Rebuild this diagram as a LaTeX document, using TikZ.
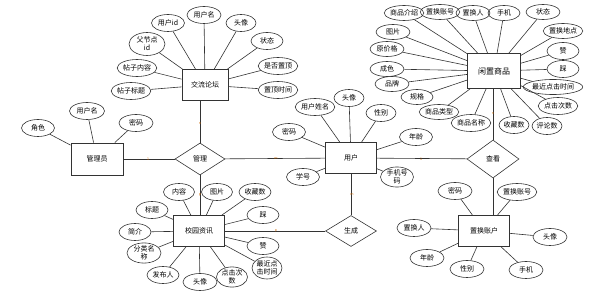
\documentclass[tikz,border=0pt]{standalone}
\usepackage{fontspec}
\setmainfont{Noto Sans CJK SC}
\usetikzlibrary{shapes.geometric}
\begin{document}
\begin{tikzpicture}[x=1pt,y=-1pt,
  every node/.style={font=\fontsize{7pt}{7.8pt}\selectfont, inner sep=0pt},
  ent/.style={draw=black!80, line width=0.9pt, rectangle, minimum width=51pt, minimum height=31pt},
  attr/.style={draw=black!80, line width=0.6pt, ellipse, minimum width=34pt, minimum height=17pt, align=center},
  rel/.style={draw=black!80, line width=0.6pt, diamond, minimum width=51pt, minimum height=31pt},
  lk/.style={draw=black!80, line width=0.6pt},
  card/.style={text=orange!80!black, font=\fontsize{3.5pt}{4pt}\selectfont, inner sep=0.3pt}]
\useasboundingbox (0,0) rectangle (608,304);

% entities
\node[ent, minimum width=46pt] (forum) at (205,85) {交流论坛};
\node[ent, minimum width=53pt, minimum height=35pt] (goods) at (494,71) {\fontsize{8pt}{8.5pt}\selectfont 闲置商品};
\node[ent, minimum width=52pt, minimum height=32pt] (admin) at (97,159) {管理员};
\node[ent] (user) at (351,158) {用户};
\node[ent] (news) at (199,231) {校园资讯};
\node[ent] (acct) at (484,231) {置换账户};

% relationships
\node[rel, minimum width=50pt, minimum height=32pt] (manage) at (200,159) {管理};
\node[rel, minimum width=52pt, minimum height=38pt] (view) at (493,159) {查看};
\node[rel] (gen) at (351,231) {生成};

% relationship links
\draw[lk] (admin) -- (manage);
\draw[lk] (manage) -- (user);
\draw[lk] (user) -- (view);
\draw[lk] (manage.north) -- (manage.north |- forum.south);
\draw[lk] (manage.south) -- (manage.south |- news.north);
\draw[lk] (view.north) -- (view.north |- goods.south);
\draw[lk] (view.south) -- (view.south |- acct.north);
\draw[lk] (user.south -| gen.north) -- (gen.north);
\draw[lk] (gen.west) -- (gen.west -| news.east);

% cardinalities
\node[card] (c1) at (148,159) {1};
\node[card] (c2) at (276,159) {m};
\node[card] (c3) at (200,124) {n};
\node[card] (c4) at (200,195) {p};
\node[card] (c5) at (352,195) {m};
\node[card] (c6) at (276,231) {p};
\node[card] (c7) at (421,159) {1};
\node[card] (c8) at (493,114) {n};

% forum attributes
\node[attr, minimum width=33pt] (f1) at (168,23) {用户id};
\node[attr] (f2) at (204,15) {用户名};
\node[attr, minimum width=30pt] (f3) at (241,23) {头像};
\node[attr, minimum width=32pt] (f4) at (267,41) {状态};
\node[attr, minimum width=37pt] (f5) at (278,66) {是否置顶};
\node[attr, minimum width=37pt] (f6) at (278,90) {置顶时间};
\node[attr, minimum width=38pt] (f7) at (131,91) {帖子标题};
\node[attr, minimum width=38pt] (f8) at (137,68) {帖子内容};
\node[attr, minimum width=36pt, minimum height=23pt] (f9) at (147,44) {父节点\\id};
\foreach \a in {f1,f2,f3,f4,f5,f6,f7,f8,f9} \draw[lk] (\a) -- (forum);

% goods attributes
\node[attr, minimum width=33pt, minimum height=15pt] (g1) at (404,13) {商品介绍};
\node[attr, minimum width=33pt, minimum height=15pt] (g2) at (440,12) {置换账号};
\node[attr, minimum width=34pt, minimum height=15pt] (g3) at (473,13) {置换人};
\node[attr, minimum width=32pt, minimum height=15pt] (g4) at (504,13) {手机};
\node[attr, minimum width=34pt, minimum height=15pt] (g5) at (543,12) {状态};
\node[attr, minimum width=34pt, minimum height=15pt] (g6) at (563,31) {置换地点};
\node[attr, minimum width=32pt] (g7) at (563,51) {赞};
\node[attr, minimum width=32pt] (g8) at (563,69) {踩};
\node[attr, minimum width=51pt, minimum height=15pt] (g9) at (553,87) {最近点击时间};
\node[attr, minimum width=35pt] (g10) at (558,106) {点击次数};
\node[attr, minimum width=30pt] (g11) at (547,126) {评论数};
\node[attr, minimum width=30pt] (g12) at (514,125) {收藏数};
\node[attr, minimum width=33pt] (g13) at (471,123) {商品名称};
\node[attr, minimum width=34pt, minimum height=15pt] (g14) at (439,112) {商品类型};
\node[attr, minimum width=32pt, minimum height=15pt] (g15) at (417,97) {规格};
\node[attr, minimum width=34pt, minimum height=15pt] (g16) at (392,84) {品牌};
\node[attr, minimum width=34pt, minimum height=15pt] (g17) at (387,69) {成色};
\node[attr, minimum width=34pt, minimum height=15pt] (g18) at (387,49) {原价格};
\node[attr, minimum width=34pt, minimum height=15pt] (g19) at (393,32) {图片};
\foreach \a in {g1,g2,g3,g4,g5,g6,g7,g8,g9,g10,g11,g12,g13,g14,g15,g16,g17,g18,g19} \draw[lk] (\a) -- (goods);

% admin attributes
\node[attr, minimum width=33pt] (a1) at (38,128) {角色};
\node[attr, minimum width=35pt] (a2) at (87,111) {用户名};
\node[attr] (a3) at (136,123) {密码};
\foreach \a in {a1,a2,a3} \draw[lk] (\a) -- (admin);

% user attributes
\node[attr, minimum width=33pt] (u1) at (315,107) {用户姓名};
\node[attr, minimum width=30pt] (u2) at (349,98) {头像};
\node[attr, minimum width=30pt] (u3) at (381,113) {性别};
\node[attr, minimum width=33pt] (u4) at (416,137) {年龄};
\node[attr, minimum width=33pt] (u5) at (289,132) {密码};
\node[attr, minimum width=33pt] (u6) at (303,177) {学号};
\node[attr, minimum width=33pt, minimum height=20pt] (u7) at (397,177) {手机号\\码};
\foreach \a in {u1,u2,u3,u4,u5,u6,u7} \draw[lk] (\a) -- (user);

% news attributes
\node[attr, minimum width=31pt] (n1) at (179,192) {内容};
\node[attr, minimum width=31pt] (n2) at (217,192) {图片};
\node[attr, minimum width=32pt] (n3) at (255,192) {收藏数};
\node[attr, minimum width=32pt] (n4) at (263,215) {踩};
\node[attr, minimum width=32pt] (n5) at (263,246) {赞};
\node[attr, minimum width=30pt, minimum height=22pt] (n6) at (267,268) {最近点\\击时间};
\node[attr, minimum width=31pt, minimum height=20pt] (n7) at (232,277) {点击次\\数};
\node[attr, minimum width=34pt] (n8) at (200,282) {头像};
\node[attr, minimum width=32pt] (n9) at (163,275) {发布人};
\node[attr, minimum width=34pt, minimum height=20pt] (n10) at (144,253) {分类名\\称};
\node[attr, minimum width=32pt] (n11) at (135,232) {简介};
\node[attr, minimum width=32pt] (n12) at (152,210) {标题};
\foreach \a in {n1,n2,n3,n4,n5,n6,n7,n8,n9,n10,n11,n12} \draw[lk] (\a) -- (news);

% account attributes
\node[attr] (p1) at (455,191) {密码};
\node[attr, minimum width=36pt] (p2) at (517,192) {置换账号};
\node[attr] (p3) at (414,228) {置换人};
\node[attr] (p4) at (550,237) {头像};
\node[attr] (p5) at (427,258) {年龄};
\node[attr] (p6) at (467,269) {性别};
\node[attr] (p7) at (526,270) {手机};
\foreach \a in {p1,p2,p3,p4,p5,p6,p7} \draw[lk] (\a) -- (acct);
\end{tikzpicture}
\end{document}
